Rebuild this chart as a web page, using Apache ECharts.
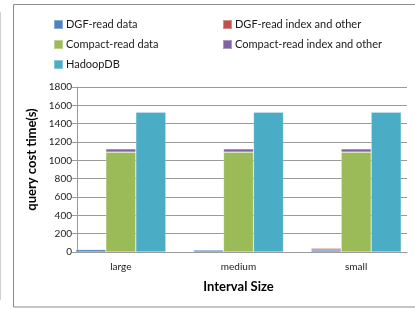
<!DOCTYPE html>
<html>
<head>
<meta charset="utf-8">
<script src="https://cdn.jsdelivr.net/npm/echarts@6/dist/echarts.min.js"></script>
<style>
  html, body { margin: 0; padding: 0; background: #fff; }
  #chart { width: 415px; height: 310px; }
</style>
</head>
<body>
<div id="chart"></div>
<script>
(function() {
    'use strict';

    var categories = ['large', 'medium', 'small'];
    var dgfData = [25, 22, 22];
    var dgfIndex = [8, 3, 18];
    var compactData = [1090, 1090, 1090];
    var compactIndex = [35, 35, 35];
    var hadoopDB = [1525, 1525, 1525];
    var yTicks = { min: 0, max: 1800, interval: 200 };

    var font = 'Lato, "Open Sans", sans-serif';
    var gridColor = '#9a9a9a';

    var chart = echarts.init(document.getElementById('chart'));

    function bar(name, data, stack, color) {
        return {
            name: name, type: 'bar', data: data, stack: stack,
            xAxisIndex: 1, yAxisIndex: 1,
            barWidth: 30, barGap: '0%',
            itemStyle: { color: color, borderColor: 'rgba(255,255,255,0.35)', borderWidth: 0.6 }
        };
    }

    var legendText = { fontFamily: font, fontSize: 11, color: '#1a1a1a', padding: [0, 0, 0, -2] };

    chart.setOption({
        animation: false,
        textStyle: { fontFamily: font },
        graphic: [
            { type: 'rect', shape: { x: 13.5, y: 4.5, width: 420, height: 302.5 },
              style: { fill: 'none', stroke: '#8c8c8c', lineWidth: 1 }, z: -10 },
            { type: 'line', shape: { x1: 0.5, y1: 12, x2: 0.5, y2: 300 },
              style: { stroke: '#d0d0d0', lineWidth: 1 }, z: -10 }
        ],
        legend: [{
            orient: 'vertical', left: 48, top: 14, itemWidth: 9, itemHeight: 9, itemGap: 9,
            textStyle: legendText, icon: 'rect',
            data: ['DGF-read data', 'Compact-read data', 'HadoopDB']
        }, {
            orient: 'vertical', left: 217, top: 14, itemWidth: 9, itemHeight: 9, itemGap: 9,
            textStyle: legendText, icon: 'rect',
            data: ['DGF-read index and other', 'Compact-read index and other']
        }],
        grid: [
            { left: 77, top: 87, width: 330, height: 165 },
            { left: 62, top: 87, width: 360, height: 165 }
        ],
        xAxis: [{
            gridIndex: 0, type: 'category', data: categories,
            axisLine: { lineStyle: { color: gridColor, width: 1 } },
            axisTick: { show: false }, axisLabel: { show: false }
        }, {
            gridIndex: 1, type: 'category', data: categories,
            axisLine: { show: false }, axisTick: { show: false },
            axisLabel: { fontFamily: font, fontSize: 10, color: '#222', margin: 10 },
            name: 'Interval Size', nameLocation: 'middle', nameGap: 28,
            nameTextStyle: { fontFamily: font, fontSize: 13, fontWeight: 'bold', color: '#000' }
        }],
        yAxis: [{
            gridIndex: 0, type: 'value',
            min: yTicks.min, max: yTicks.max, interval: yTicks.interval,
            axisLine: { show: true, lineStyle: { color: gridColor, width: 1 } },
            axisTick: { show: true, length: 5, lineStyle: { color: gridColor } },
            axisLabel: { fontFamily: font, fontSize: 10, color: '#222', margin: 5,
                         formatter: function(v) { return String(v); } },
            splitLine: { lineStyle: { color: gridColor, width: 1 } },
            name: 'query cost time(s)', nameLocation: 'middle', nameGap: 36,
            nameTextStyle: { fontFamily: font, fontSize: 13, fontWeight: 'bold', color: '#000',
                             padding: [0, 0, 0, 20] }
        }, {
            gridIndex: 1, type: 'value',
            min: yTicks.min, max: yTicks.max, interval: yTicks.interval,
            show: false, splitLine: { show: false }
        }],
        series: [
            bar('DGF-read data', dgfData, 'dgf', '#4f81bd'),
            bar('DGF-read index and other', dgfIndex, 'dgf', '#c0504d'),
            bar('Compact-read data', compactData, 'compact', '#9bbb59'),
            bar('Compact-read index and other', compactIndex, 'compact', '#8064a2'),
            bar('HadoopDB', hadoopDB, 'hadoop', '#4bacc6')
        ]
    });
})();
</script>
</body>
</html>
